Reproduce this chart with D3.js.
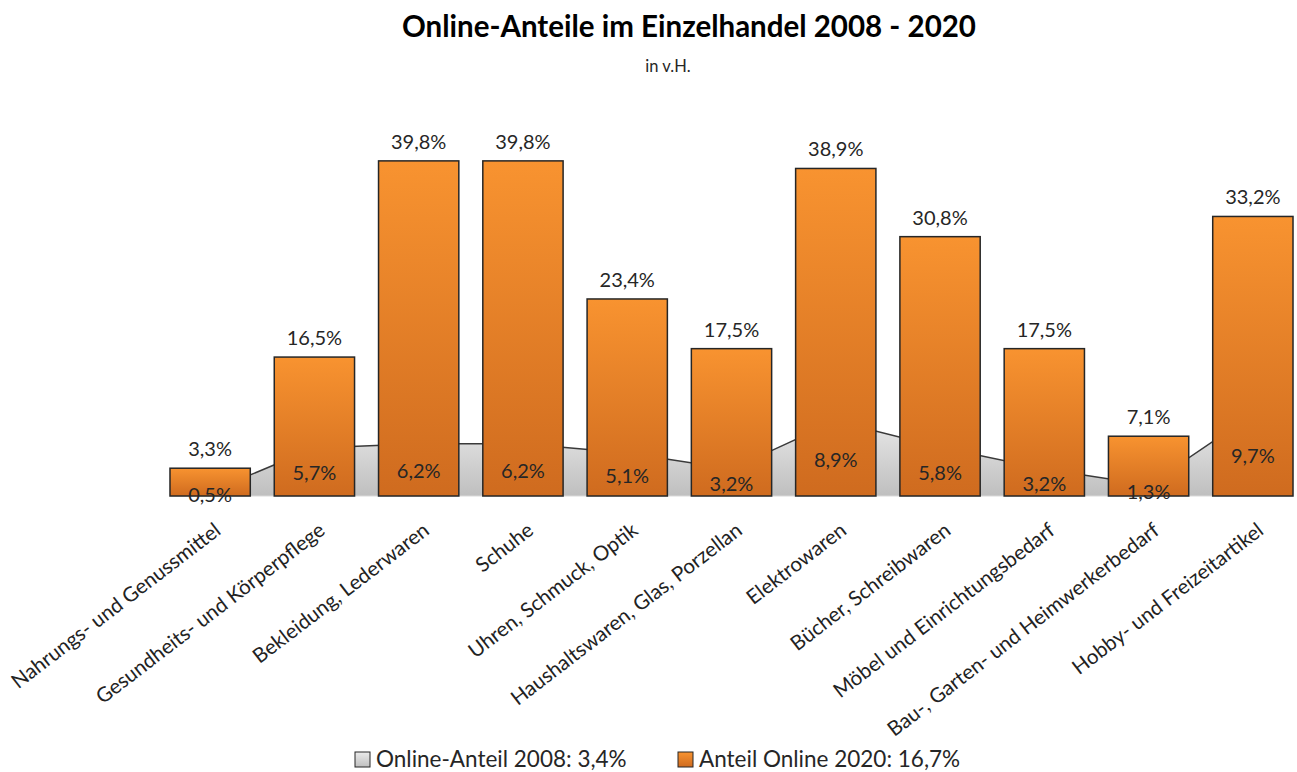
<!DOCTYPE html>
<html><head><meta charset="utf-8">
<script src="https://cdn.jsdelivr.net/npm/d3@7"></script>
<style>body{margin:0;background:#fff;} svg{display:block;font-family:Lato, "Open Sans", sans-serif;}</style>
</head><body>
<script>
const categories = ["Nahrungs- und Genussmittel","Gesundheits- und Körperpflege","Bekleidung, Lederwaren","Schuhe","Uhren, Schmuck, Optik","Haushaltswaren, Glas, Porzellan","Elektrowaren","Bücher, Schreibwaren","Möbel und Einrichtungsbedarf","Bau-, Garten- und Heimwerkerbedarf","Hobby- und Freizeitartikel"];
const values2008 = [0.5,5.7,6.2,6.2,5.1,3.2,8.9,5.8,3.2,1.3,9.7];
const values2020 = [3.3,16.5,39.8,39.8,23.4,17.5,38.9,30.8,17.5,7.1,33.2];
const legendLabels = ["Online-Anteil 2008: 3,4%","Anteil Online 2020: 16,7%"];
const title = "Online-Anteile im Einzelhandel 2008 - 2020";
const subtitle = "in v.H.";

const W = 1297, H = 772;
const svg = d3.select("body").append("svg").attr("width", W).attr("height", H);
const defs = svg.append("defs");
const og = defs.append("linearGradient").attr("id","og").attr("x1",0).attr("y1",0).attr("x2",0).attr("y2",1);
og.append("stop").attr("offset","0%").attr("stop-color","#f89330");
og.append("stop").attr("offset","100%").attr("stop-color","#cf6b1f");
const gg = defs.append("linearGradient").attr("id","gg").attr("x1",0).attr("y1",0).attr("x2",0).attr("y2",1);
gg.append("stop").attr("offset","0%").attr("stop-color","#ebebeb");
gg.append("stop").attr("offset","100%").attr("stop-color","#bfbfbf");

const fmt = v => d3.format(".1f")(v).replace(".", ",") + "%";

const x = d3.scaleBand().domain(categories).range([158, 1305]).paddingInner(0.23).paddingOuter(0.115);
const y = d3.scaleLinear().domain([0, 40]).range([496, 159.2]);
const cx = d => x(d) + x.bandwidth()/2;

const data = categories.map((c,i)=>({c, a:values2008[i], b:values2020[i]}));
const area = d3.area().x(d=>cx(d.c)).y0(y(0)).y1(d=>y(d.a));
const line = d3.line().x(d=>cx(d.c)).y(d=>y(d.a));
svg.append("path").datum(data).attr("d", area).attr("fill","url(#gg)");
svg.append("path").datum(data).attr("d", line).attr("fill","none").attr("stroke","#3a3a3a").attr("stroke-width",1.5);

svg.append("line").attr("x1", x(categories[0])).attr("x2", x(categories[10])+x.bandwidth())
  .attr("y1", y(0)).attr("y2", y(0)).attr("stroke","#d9d9d9").attr("stroke-width",1);

svg.selectAll("rect.bar").data(data).enter().append("rect")
  .attr("x", d=>x(d.c)).attr("width", x.bandwidth())
  .attr("y", d=>y(d.b)).attr("height", d=>y(0)-y(d.b))
  .attr("fill","url(#og)").attr("stroke","#262626").attr("stroke-width",1.5);

svg.selectAll("text.l20").data(data).enter().append("text")
  .attr("x", d=>cx(d.c)).attr("y", d=>y(d.b)-12)
  .attr("text-anchor","middle").attr("font-size",20).attr("fill","#262626").text(d=>fmt(d.b));
svg.selectAll("text.l08").data(data).enter().append("text")
  .attr("x", d=>cx(d.c)).attr("y", d=>y(d.a/2)+8)
  .attr("text-anchor","middle").attr("font-size",20).attr("fill","#262626").text(d=>fmt(d.a));

svg.selectAll("text.xl").data(categories).enter().append("text")
  .attr("transform", d=>`translate(${cx(d)+12},${y(0)+37}) rotate(-37.5)`)
  .attr("text-anchor","end").attr("font-size",20.5).attr("fill","#222").text(d=>d);

svg.append("text").attr("x",689).attr("y",37).attr("text-anchor","middle")
  .attr("font-size",29.5).attr("font-weight","bold").attr("fill","#000").text(title);
svg.append("text").attr("x",668).attr("y",72).attr("text-anchor","middle")
  .attr("font-size",16.5).attr("fill","#262626").text(subtitle);

const lg = svg.append("g");
const items = [{x:355, fill:"url(#gg)", t:legendLabels[0]},{x:678, fill:"url(#og)", t:legendLabels[1]}];
items.forEach(it=>{
  lg.append("rect").attr("x",it.x).attr("y",752).attr("width",15).attr("height",15)
    .attr("fill",it.fill).attr("stroke","#262626").attr("stroke-width",1);
  lg.append("text").attr("x",it.x+21).attr("y",767).attr("font-size",22.5).attr("fill","#262626").text(it.t);
});
</script>
</body></html>
